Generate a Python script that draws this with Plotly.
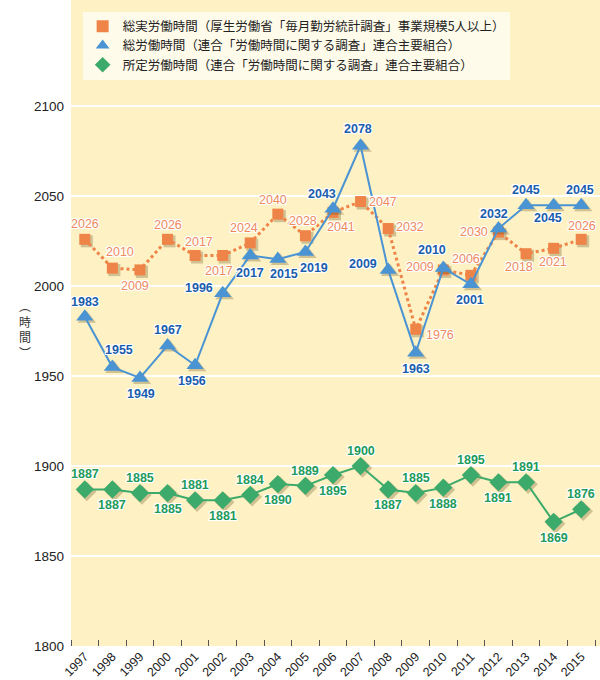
import plotly.graph_objects as go

years = list(range(1997, 2016))

# 総実労働時間（毎月勤労統計調査）
actual_hours = [2026, 2010, 2009, 2026, 2017, 2017, 2024, 2040, 2028, 2041,
                2047, 2032, 1976, 2009, 2006, 2030, 2018, 2021, 2026]
# 総労働時間（連合調査）
total_hours = [1983, 1955, 1949, 1967, 1956, 1996, 2017, 2015, 2019, 2043,
               2078, 2009, 1963, 2010, 2001, 2032, 2045, 2045, 2045]
# 所定労働時間（連合調査）
scheduled_hours = [1887, 1887, 1885, 1885, 1881, 1881, 1884, 1890, 1889, 1895,
                   1900, 1887, 1885, 1888, 1895, 1891, 1891, 1869, 1876]

series_names = [
    "総実労働時間（厚生労働省「毎月勤労統計調査」事業規模5人以上）",
    "総労働時間（連合「労働時間に関する調査」連合主要組合）",
    "所定労働時間（連合「労働時間に関する調査」連合主要組合）",
]

y_ticks = [1800, 1850, 1900, 1950, 2000, 2050, 2100]

# label offsets in pixels (dx, dy-up) for each point
actual_offsets = [(0, 15), (8, 16), (-5, -16), (0, 14), (4, 14), (-4, -15), (-6, 15),
                  (-5, 14), (-2, 15), (8, -15), (22, 0), (22, 2), (24, -6), (-23, 3),
                  (-5, 16), (-24, 0), (-7, -13), (-1, -14), (1, 13)]
total_offsets = [(0, 15), (7, 17), (1, -16), (0, 15), (-3, -16), (-24, 5), (0, -17),
                 (6, -15), (9, -16), (-11, 15), (-3, 17), (-25, 6), (0, -16), (-11, 18),
                 (-1, -16), (-4, 15), (0, 15), (-6, -13), (-1, 15)]
scheduled_offsets = [(0, 15) if i % 2 == 0 else (0, -16) for i in range(len(years))]

ORANGE = "#EF8449"
ORANGE_TXT = "#EE8A5E"
BLUE = "#4A94D3"
BLUE_TXT = "#1B5DAB"
GREEN = "#3BAA6A"
GREEN_TXT = "#1E9A5A"
BG = "#FEF1C4"

PX_PER_YEAR = 529 / 19.18
PX_PER_HOUR = 646 / 359.0

fig = go.Figure()

def add_series(values, color, symbol, size, dash, width):
    # soft drop shadow under the markers
    fig.add_trace(go.Scatter(
        x=[y + 2 / PX_PER_YEAR for y in years],
        y=[v - 2 / PX_PER_HOUR for v in values],
        mode="markers",
        marker=dict(symbol=symbol, size=size + 1, color="rgba(90,70,20,0.28)", line=dict(width=0)),
        hoverinfo="skip", showlegend=False,
    ))
    fig.add_trace(go.Scatter(
        x=years, y=values, mode="lines+markers",
        line=dict(color=color, width=width, dash=dash),
        marker=dict(symbol=symbol, size=size, color=color, line=dict(width=0)),
        showlegend=False,
    ))

add_series(actual_hours, ORANGE, "square", 11, "dot", 3)
add_series(scheduled_hours, GREEN, "diamond", 14, "solid", 2)
add_series(total_hours, BLUE, "triangle-up", 15, "solid", 2)

# legend entries (markers only)
for name, color, symbol in zip(series_names, [ORANGE, BLUE, GREEN],
                               ["square", "triangle-up", "diamond"]):
    fig.add_trace(go.Scatter(
        x=[None], y=[None], mode="markers", name=name,
        marker=dict(symbol=symbol, size=14, color=color),
    ))

halo = ("1px 1px 0 #fff, -1px -1px 0 #fff, 1px -1px 0 #fff, -1px 1px 0 #fff, "
        "0 1px 0 #fff, 0 -1px 0 #fff, 1px 0 0 #fff, -1px 0 0 #fff")

annotations = []
for values, offsets, color, weight in [
    (actual_hours, actual_offsets, ORANGE_TXT, "normal"),
    (total_hours, total_offsets, BLUE_TXT, "bold"),
    (scheduled_hours, scheduled_offsets, GREEN_TXT, "bold"),
]:
    for yr, v, (dx, dy) in zip(years, values, offsets):
        annotations.append(dict(
            x=yr, y=v, text=str(v), showarrow=False,
            xshift=dx, yshift=dy,
            font=dict(family="Liberation Sans, Arial, sans-serif", size=12.5,
                      color=color, weight=weight, shadow=halo),
        ))

annotations.append(dict(
    xref="paper", yref="paper", x=-0.102, y=0.49,
    text="︵<br>時<br>間<br>︶", showarrow=False,
    font=dict(family="Noto Sans CJK JP", size=12, color="#333"),
))

fig.update_layout(
    width=600, height=680,
    margin=dict(l=71, r=0, t=0, b=34),
    paper_bgcolor="white",
    plot_bgcolor=BG,
    font=dict(family="Noto Sans CJK JP, Liberation Sans, sans-serif", color="#222"),
    showlegend=True,
    legend=dict(
        x=0.022, y=0.982, xanchor="left", yanchor="top",
        bgcolor="#FFFBEA", borderwidth=0,
        font=dict(size=12.5, color="#222", family="Noto Sans CJK JP"),
        itemsizing="constant", tracegroupgap=2,
    ),
    annotations=annotations,
    xaxis=dict(
        range=[1996.5, 2015.5 + 5 / PX_PER_YEAR],
        tickmode="array", tickvals=years, ticktext=[str(y) for y in years],
        tickangle=-45, ticks="", showgrid=False, zeroline=False, showline=False,
        tickfont=dict(family="Liberation Sans, Arial, sans-serif", size=12.5, color="#222"),
        minor=dict(tickmode="array", tickvals=[y - 0.5 for y in years] + [2015.5],
                   ticks="inside", ticklen=6, tickwidth=1, tickcolor="#555", showgrid=False),
        fixedrange=True,
    ),
    yaxis=dict(
        range=[1800, 2159], tickmode="array", tickvals=y_ticks,
        showgrid=True, gridcolor="white", gridwidth=2, zeroline=False, showline=False,
        ticks="", ticklabelstandoff=6,
        tickfont=dict(family="Liberation Sans, Arial, sans-serif", size=13.5, color="#222"),
        fixedrange=True,
    ),
)

fig.write_html("out.html")
